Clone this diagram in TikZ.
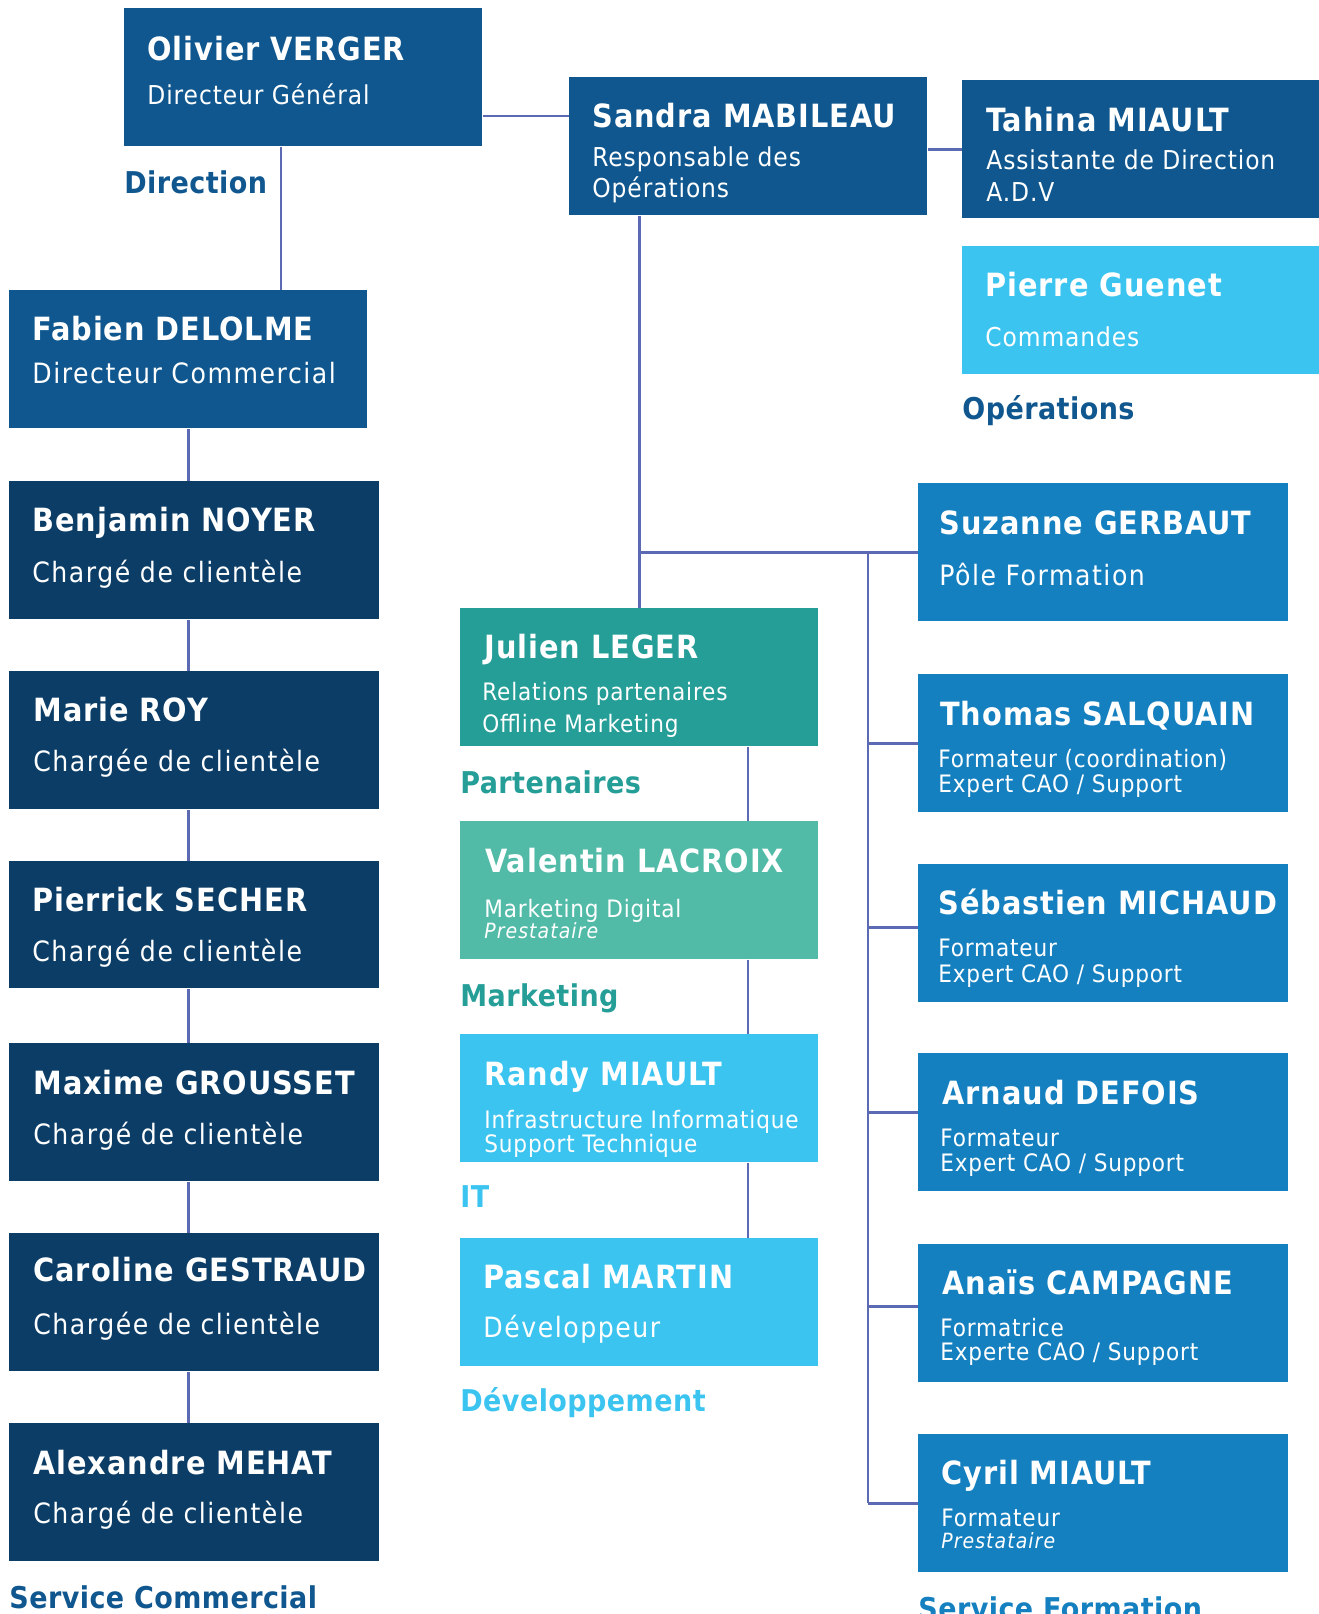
\documentclass[tikz,border=0pt]{standalone}
\usepackage{fontspec}
\setmainfont{DejaVu Sans Condensed}
\usepackage{xcolor}
\usepackage{tikz}

\definecolor{dirBlue}{HTML}{0F578E}
\definecolor{comNavy}{HTML}{0B3D66}
\definecolor{forBlue}{HTML}{1580C0}
\definecolor{skyBlue}{HTML}{3CC4F0}
\definecolor{teal}{HTML}{269E98}
\definecolor{lteal}{HTML}{52BBA8}
\definecolor{lineC}{HTML}{5C6AB4}

\tikzset{
  box/.style={rectangle, anchor=north west, inner sep=0pt, minimum width=179pt, minimum height=69pt, fill=#1},
  wide/.style={minimum width=185pt},
  short/.style={minimum height=64pt},
  nm/.style={anchor=base west, inner sep=0pt, text=white, font=\bfseries\fontsize{16}{19}\selectfont\addfontfeature{LetterSpace=3}},
  sub/.style={anchor=base west, inner sep=0pt, text=white, font=\fontsize{14}{17}\selectfont\addfontfeature{LetterSpace=5.5}},
  subd/.style={anchor=base west, inner sep=0pt, text=white, font=\fontsize{13}{16}\selectfont\addfontfeature{LetterSpace=3.5}},
  subs/.style={anchor=base west, inner sep=0pt, text=white, font=\fontsize{12}{14}\selectfont\addfontfeature{LetterSpace=3.5}},
  pre/.style={anchor=base west, inner sep=0pt, text=white, font=\itshape\fontsize{10.5}{12}\selectfont\addfontfeature{LetterSpace=5}},
  lbl/.style={anchor=base west, inner sep=0pt, text=#1, font=\bfseries\fontsize{15}{18}\selectfont\addfontfeature{LetterSpace=1.5}},
  link/.style={draw=lineC, line width=1.1pt}
}

\begin{document}
\begin{tikzpicture}[x=0.5pt, y=-0.5pt]
\useasboundingbox (0,0) rectangle (1319,1614);

% direction
\node (olivier) [box=dirBlue] at (124,8) {};
\node (olivierN) [nm] at ([shift={(23,52)}]olivier.north west) {Olivier VERGER};
\node (olivierS) [subd] at ([shift={(23,96)}]olivier.north west) {Directeur Général};
\node (direction) [lbl=dirBlue] at ([shift={(0,47)}]olivier.south west) {Direction};

\node (sandra) [box=dirBlue] at (569,77) {};
\node (sandraN) [nm] at ([shift={(23,50)}]sandra.north west) {Sandra MABILEAU};
\node (sandraS1) [subd] at ([shift={(23,89)}]sandra.north west) {Responsable des};
\node (sandraS2) [subd] at ([shift={(23,120)}]sandra.north west) {Opérations};

% operations
\node (tahina) [box=dirBlue] at (962,80) {};
\node (tahinaN) [nm] at ([shift={(24,51)}]tahina.north west) {Tahina MIAULT};
\node (tahinaS1) [subd] at ([shift={(24,89)}]tahina.north west) {Assistante de Direction};
\node (tahinaS2) [subd] at ([shift={(24,121)}]tahina.north west) {A.D.V};

\node (pierre) [box=skyBlue, short] at (962,246) {};
\node (pierreN) [nm] at ([shift={(23,50)}]pierre.north west) {Pierre Guenet};
\node (pierreS) [subd] at ([shift={(23,100)}]pierre.north west) {Commandes};
\node (operations) [lbl=dirBlue] at ([shift={(0,45)}]pierre.south west) {Opérations};

% service commercial
\node (fabien) [box=dirBlue] at (9,290) {};
\node (fabienN) [nm] at ([shift={(23,50)}]fabien.north west) {Fabien DELOLME};
\node (fabienS) [sub] at ([shift={(23,93)}]fabien.north west) {Directeur Commercial};

\node (benjamin) [box=comNavy, wide] at (9,481) {};
\node (benjaminN) [nm] at ([shift={(23,50)}]benjamin.north west) {Benjamin NOYER};
\node (benjaminS) [sub] at ([shift={(23,101)}]benjamin.north west) {Chargé de clientèle};

\node (marie) [box=comNavy, wide] at (9,671) {};
\node (marieN) [nm] at ([shift={(24,50)}]marie.north west) {Marie ROY};
\node (marieS) [sub] at ([shift={(24,100)}]marie.north west) {Chargée de clientèle};

\node (pierrick) [box=comNavy, wide, minimum height=63.5pt] at (9,861) {};
\node (pierrickN) [nm] at ([shift={(23,50)}]pierrick.north west) {Pierrick SECHER};
\node (pierrickS) [sub] at ([shift={(23,100)}]pierrick.north west) {Chargé de clientèle};

\node (maxime) [box=comNavy, wide] at (9,1043) {};
\node (maximeN) [nm] at ([shift={(24,51)}]maxime.north west) {Maxime GROUSSET};
\node (maximeS) [sub] at ([shift={(24,101)}]maxime.north west) {Chargé de clientèle};

\node (caroline) [box=comNavy, wide] at (9,1233) {};
\node (carolineN) [nm] at ([shift={(24,48)}]caroline.north west) {Caroline GESTRAUD};
\node (carolineS) [sub] at ([shift={(24,101)}]caroline.north west) {Chargée de clientèle};

\node (alexandre) [box=comNavy, wide] at (9,1423) {};
\node (alexandreN) [nm] at ([shift={(24,51)}]alexandre.north west) {Alexandre MEHAT};
\node (alexandreS) [sub] at ([shift={(24,100)}]alexandre.north west) {Chargé de clientèle};
\node (commercial) [lbl=dirBlue] at ([shift={(0,47)}]alexandre.south west) {Service Commercial};

% partenaires, marketing, IT, developpement
\node (julien) [box=teal] at (460,608) {};
\node (julienN) [nm] at ([shift={(24,50)}]julien.north west) {Julien LEGER};
\node (julienS1) [subs] at ([shift={(22,92)}]julien.north west) {Relations partenaires};
\node (julienS2) [subs] at ([shift={(22,124)}]julien.north west) {Offline Marketing};
\node (partenaires) [lbl=teal] at ([shift={(0,47)}]julien.south west) {Partenaires};

\node (valentin) [box=lteal] at (460,821) {};
\node (valentinN) [nm] at ([shift={(25,51)}]valentin.north west) {Valentin LACROIX};
\node (valentinS1) [subs] at ([shift={(24,96)}]valentin.north west) {Marketing Digital};
\node (valentinS2) [pre] at ([shift={(24,117)}]valentin.north west) {Prestataire};
\node (marketing) [lbl=teal] at ([shift={(0,47)}]valentin.south west) {Marketing};

\node (randy) [box=skyBlue, short] at (460,1034) {};
\node (randyN) [nm] at ([shift={(24,51)}]randy.north west) {Randy MIAULT};
\node (randyS1) [subs] at ([shift={(24,94)}]randy.north west) {Infrastructure Informatique};
\node (randyS2) [subs] at ([shift={(24,118)}]randy.north west) {Support Technique};
\node (it) [lbl=skyBlue] at ([shift={(0,45)}]randy.south west) {IT};

\node (pascal) [box=skyBlue, short] at (460,1238) {};
\node (pascalN) [nm] at ([shift={(23,50)}]pascal.north west) {Pascal MARTIN};
\node (pascalS) [sub] at ([shift={(23,99)}]pascal.north west) {Développeur};
\node (developpement) [lbl=skyBlue] at ([shift={(0,45)}]pascal.south west) {Développement};

% service formation
\node (suzanne) [box=forBlue, wide] at (918,483) {};
\node (suzanneN) [nm] at ([shift={(21,51)}]suzanne.north west) {Suzanne GERBAUT};
\node (suzanneS) [sub] at ([shift={(21,102)}]suzanne.north west) {Pôle Formation};

\node (thomas) [box=forBlue, wide] at (918,674) {};
\node (thomasN) [nm] at ([shift={(22,51)}]thomas.north west) {Thomas SALQUAIN};
\node (thomasS1) [subs] at ([shift={(20,93)}]thomas.north west) {Formateur (coordination)};
\node (thomasS2) [subs] at ([shift={(20,118)}]thomas.north west) {Expert CAO / Support};

\node (sebastien) [box=forBlue, wide] at (918,864) {};
\node (sebastienN) [nm] at ([shift={(20,50)}]sebastien.north west) {Sébastien MICHAUD};
\node (sebastienS1) [subs] at ([shift={(20,92)}]sebastien.north west) {Formateur};
\node (sebastienS2) [subs] at ([shift={(20,118)}]sebastien.north west) {Expert CAO / Support};

\node (arnaud) [box=forBlue, wide] at (918,1053) {};
\node (arnaudN) [nm] at ([shift={(24,51)}]arnaud.north west) {Arnaud DEFOIS};
\node (arnaudS1) [subs] at ([shift={(22,93)}]arnaud.north west) {Formateur};
\node (arnaudS2) [subs] at ([shift={(22,118)}]arnaud.north west) {Expert CAO / Support};

\node (anais) [box=forBlue, wide] at (918,1244) {};
\node (anaisN) [nm] at ([shift={(24,50)}]anais.north west) {Anaïs CAMPAGNE};
\node (anaisS1) [subs] at ([shift={(22,92)}]anais.north west) {Formatrice};
\node (anaisS2) [subs] at ([shift={(22,116)}]anais.north west) {Experte CAO / Support};

\node (cyril) [box=forBlue, wide] at (918,1434) {};
\node (cyrilN) [nm] at ([shift={(23,50)}]cyril.north west) {Cyril MIAULT};
\node (cyrilS1) [subs] at ([shift={(23,92)}]cyril.north west) {Formateur};
\node (cyrilS2) [pre] at ([shift={(23,114)}]cyril.north west) {Prestataire};
\node (formation) [lbl=forBlue] at ([shift={(0,47)}]cyril.south west) {Service Formation};

% connectors
\coordinate (rowOS) at (0,116);
\coordinate (dropL) at (281,0);
\coordinate (dropM) at (748,0);
\coordinate (forkR) at (868,0);

\draw[link] (olivier.east |- rowOS) -- (sandra.west |- rowOS);
\draw[link] (sandra.east |- tahina.west) -- (tahina.west);
\draw[link] (olivier.south -| dropL) -- (fabien.north -| dropL);

\foreach \a/\b in {fabien/benjamin, benjamin/marie, marie/pierrick, pierrick/maxime, maxime/caroline, caroline/alexandre}
  \draw[link] (\a.south -| fabien.south) -- (\b.north -| fabien.south);

\draw[link] (sandra.south -| julien.north) -- (julien.north);
\draw[link] (julien.north |- suzanne.west) -- (suzanne.west);

\foreach \a/\b in {julien/valentin, valentin/randy, randy/pascal}
  \draw[link] (\a.south -| dropM) -- (\b.north -| dropM);

\draw[link] (forkR |- suzanne.west) -- (forkR |- cyril.west);
\foreach \b/\d in {thomas/0, sebastien/3, arnaud/5, anais/3.5, cyril/0}
  \draw[link] ([yshift=\d pt]forkR |- \b.west) -- ([yshift=\d pt]\b.west);

\end{tikzpicture}
\end{document}
